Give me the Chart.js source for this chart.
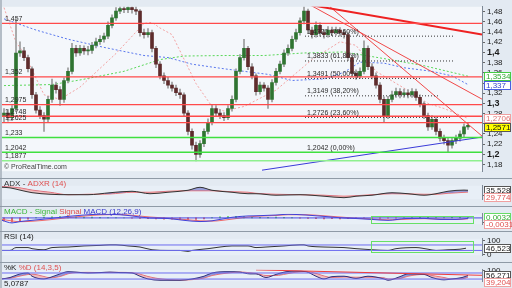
<!DOCTYPE html>
<html>
<head>
<meta charset="utf-8">
<script src="https://cdn.jsdelivr.net/npm/chart.js@4.4.1/dist/chart.umd.min.js"></script>
<style>
  html, body { margin: 0; padding: 0; background: #8f9aa6; }
  #wrap { position: relative; width: 512px; height: 288px; overflow: hidden; background: #8f9aa6; }
  canvas { position: absolute; left: 0; }
</style>
</head>
<body>
<div id="wrap">
  <canvas id="main" width="512" height="178" style="top:0px"></canvas>
  <canvas id="adx" width="512" height="27" style="top:179px"></canvas>
  <canvas id="macd" width="512" height="24" style="top:207px"></canvas>
  <canvas id="rsi" width="512" height="30" style="top:232px"></canvas>
  <canvas id="stoch" width="512" height="25" style="top:263px"></canvas>
</div>
<script>
// ---- price candles (one per bar, index = position) ----
const opens = [1.275,1.281,1.272,1.290,1.399,1.403,1.390,1.368,1.317,1.287,
  1.276,1.269,1.308,1.336,1.327,1.308,1.345,1.363,1.408,1.399,
  1.408,1.403,1.404,1.414,1.421,1.426,1.432,1.453,1.468,1.481,
  1.486,1.484,1.488,1.484,1.481,1.439,1.435,1.439,1.408,1.377,
  1.354,1.345,1.336,1.330,1.321,1.317,1.281,1.245,1.218,1.200,
  1.221,1.245,1.263,1.290,1.281,1.276,1.272,1.290,1.308,1.363,
  1.390,1.408,1.372,1.354,1.323,1.336,1.330,1.308,1.341,1.363,
  1.377,1.399,1.408,1.426,1.439,1.462,1.481,1.444,1.435,1.453,
  1.439,1.435,1.444,1.439,1.444,1.439,1.435,1.390,1.359,1.354,
  1.363,1.408,1.372,1.354,1.336,1.308,1.276,1.308,1.317,1.323,
  1.317,1.321,1.317,1.323,1.312,1.299,1.276,1.254,1.269,1.245,
  1.232,1.227,1.218,1.227,1.232,1.240,1.254];
const closes = [1.281,1.272,1.290,1.399,1.403,1.390,1.368,1.317,1.287,1.276,
  1.269,1.308,1.336,1.327,1.308,1.345,1.363,1.408,1.399,1.408,
  1.403,1.404,1.414,1.421,1.426,1.432,1.453,1.468,1.481,1.486,
  1.484,1.488,1.484,1.481,1.439,1.435,1.439,1.408,1.377,1.354,
  1.345,1.336,1.330,1.321,1.317,1.281,1.245,1.218,1.200,1.221,
  1.245,1.263,1.290,1.281,1.276,1.272,1.290,1.308,1.363,1.390,
  1.408,1.372,1.354,1.323,1.336,1.330,1.308,1.341,1.363,1.377,
  1.399,1.408,1.426,1.439,1.462,1.481,1.444,1.435,1.453,1.439,
  1.435,1.444,1.439,1.444,1.439,1.435,1.390,1.359,1.354,1.363,
  1.408,1.372,1.354,1.336,1.308,1.276,1.308,1.317,1.323,1.317,
  1.321,1.317,1.323,1.312,1.299,1.276,1.254,1.269,1.245,1.232,
  1.227,1.218,1.227,1.232,1.240,1.254,1.2571];
const highs = [1.290,1.288,1.296,1.466,1.421,1.410,1.395,1.372,1.322,1.294,
  1.282,1.314,1.348,1.342,1.333,1.350,1.370,1.418,1.414,1.414,
  1.413,1.412,1.420,1.428,1.433,1.438,1.460,1.474,1.488,1.492,
  1.492,1.492,1.492,1.490,1.484,1.446,1.447,1.444,1.412,1.382,
  1.360,1.351,1.342,1.336,1.328,1.321,1.286,1.250,1.224,1.227,
  1.250,1.270,1.297,1.296,1.288,1.282,1.296,1.315,1.368,1.396,
  1.426,1.412,1.378,1.358,1.342,1.341,1.335,1.347,1.369,1.383,
  1.405,1.415,1.432,1.446,1.468,1.490,1.485,1.450,1.460,1.458,
  1.445,1.451,1.450,1.450,1.449,1.445,1.440,1.395,1.366,1.370,
  1.423,1.413,1.378,1.360,1.341,1.313,1.314,1.324,1.330,1.329,
  1.328,1.327,1.329,1.328,1.317,1.303,1.281,1.276,1.274,1.250,
  1.238,1.232,1.233,1.238,1.246,1.260,1.263];
const lows = [1.262,1.265,1.266,1.284,1.392,1.384,1.362,1.310,1.281,1.270,
  1.245,1.262,1.302,1.320,1.296,1.302,1.340,1.358,1.392,1.394,
  1.396,1.395,1.398,1.409,1.416,1.420,1.427,1.448,1.463,1.476,
  1.478,1.478,1.477,1.474,1.432,1.428,1.430,1.401,1.370,1.348,
  1.339,1.330,1.324,1.315,1.310,1.275,1.238,1.210,1.187,1.194,
  1.215,1.240,1.258,1.275,1.270,1.266,1.268,1.285,1.303,1.358,
  1.385,1.366,1.348,1.316,1.318,1.324,1.290,1.303,1.336,1.358,
  1.372,1.394,1.403,1.421,1.434,1.456,1.437,1.428,1.430,1.432,
  1.428,1.430,1.433,1.434,1.432,1.428,1.384,1.352,1.347,1.349,
  1.358,1.366,1.348,1.330,1.301,1.263,1.270,1.303,1.312,1.311,
  1.312,1.311,1.312,1.306,1.293,1.270,1.247,1.249,1.238,1.226,
  1.220,1.205,1.212,1.221,1.226,1.235,1.249];

// moving averages (bar index, price)
const pinkIdx = [0,3,5,10,14,19,28,35,37,39,42,48,52,55,60,68,77,84,88,93,100,106,110,116];
const pinkMa = [1.488,1.420,1.399,1.317,1.308,1.332,1.398,1.457,1.459,1.448,1.435,1.339,1.294,1.285,1.294,1.326,1.386,1.421,1.414,1.363,1.330,1.300,1.290,1.2706];
const blueIdx = [0,8,16,25,35,41,47,55,66,72,80,85,89,95,100,107,112,116];
const blueMa = [1.466,1.444,1.426,1.410,1.394,1.390,1.377,1.368,1.357,1.345,1.348,1.361,1.381,1.379,1.370,1.363,1.354,1.337];
const greenIdx = [0,12,19,30,39,45,55,65,75,85,95,105,116];
const greenMa = [1.335,1.337,1.346,1.363,1.386,1.393,1.394,1.394,1.399,1.401,1.388,1.374,1.3534];

// horizontal levels
const redLevels = [1.457, 1.352, 1.2975, 1.2748, 1.2625];
const redLevelLabels = ['1,457', '1,352', '1,2975', '1,2748', '1,2625'];
const greenLevels = [1.233, 1.2042, 1.1877];
const greenLevelLabels = ['1,233', '1,2042', '1,1877'];

// fibonacci retracement
const fibValues = [1.4320, 1.3833, 1.3491, 1.3149, 1.2726, 1.2042];
const fibLabels = ['1,4320 (78,60%)', '1,3833 (61,80%)', '1,3491 (50,00%)', '1,3149 (38,20%)', '1,2726 (23,60%)', '1,2042 (0,00%)'];
const fibStart = 75.25;
const fibEnd = [112.5, 112.5, 104, 109, 111.5, 75.25];

// trend lines: [startIndex, startPrice, endIndex, endPrice]
const redTrendThick = [76.5, 1.4932, 119.5, 1.4353];
const redTrendA = [75.25, 1.4987, 119.5, 1.3084];
const redTrendB = [81.5, 1.4896, 119.5, 1.2360];
const blueTrend = [64.5, 1.169, 119.5, 1.234];

// right axis
const priceTicks = [1.18,1.2,1.22,1.24,1.26,1.28,1.3,1.32,1.34,1.36,1.38,1.4,1.42,1.44,1.46,1.48];
const priceTickLabels = ['1,18','1,2','1,22','1,24','1,26','1,28','1,3','1,32','1,34','1,36','1,38','1,4','1,42','1,44','1,46','1,48'];
const boldPriceTicks = [1.2, 1.3, 1.4];
const mainBoxValues = [1.3534, 1.337, 1.2706, 1.2571];
const mainBoxLabels = ['1,3534', '1,337', '1,2706', '1,2571'];

// ADX / ADXR
const adxIdx = [-0.5,1.5,4,7,11.5,16,21,26.5,32,36.5,41,46,49,52,57,61,63,68,74,80,85,88,92,97,101,105,108,111,115,116];
const adxVals = [45,43,36,28,23,21.6,21.6,27.8,32.4,24.7,29.3,35.5,44.8,35.5,29.3,24.7,24.7,20,21.6,16.9,12.3,16.9,20,27.8,24.7,20,24.7,32.4,36,35.5];
const adxrVals = [47,46,43,36,29.3,21.6,23,24,29.3,29.3,32.4,33.9,33.9,33.9,30.8,29.3,26,23,21.6,20,17,18.5,21.6,24.7,24,23,23,26,29,29.8];

// MACD
const macdIdx = [-0.5,2,4,7,11.5,16,20,24,29,32,36.5,41,45,49,52,57,61,63,68,71,75.5,80,85,88,92,96,100.5,105,109,113,116];
const macdVals = [-0.016,-0.033,-0.024,-0.016,-0.004,0.010,0.019,0.024,0.021,0.013,-0.001,-0.004,-0.016,-0.024,-0.019,0.004,0.013,0.014,0.019,0.024,0.019,0.010,-0.001,-0.004,-0.010,-0.016,-0.004,-0.003,-0.010,-0.010,-0.003];
const signalVals = [-0.010,-0.020,-0.025,-0.022,-0.012,0.002,0.012,0.020,0.022,0.017,0.006,-0.002,-0.010,-0.019,-0.021,-0.008,0.006,0.011,0.016,0.021,0.021,0.014,0.004,-0.002,-0.007,-0.013,-0.009,-0.005,-0.008,-0.010,-0.006];
// histogram, one value every 2 bars
const histVals = [-0.020,-0.026,-0.018,-0.009,0.003,0.005,0.007,0.008,0.008,0.007,
  0.006,0.005,0.004,0.003,0.002,0.001,-0.001,-0.003,-0.005,-0.007,
  -0.008,-0.009,-0.011,-0.012,-0.010,-0.006,0.003,0.007,0.009,0.010,
  0.008,0.006,0.004,0.004,0.005,0.004,0.003,-0.002,-0.004,-0.005,
  -0.006,-0.005,-0.006,-0.005,-0.004,-0.004,-0.004,-0.003,-0.002,-0.001,
  0.001,0.003,0.004,0.004,0.003,0.003,0.004,0.004,0.003];
const macdZero = 0;

// RSI
const rsiIdx = [-0.5,1.5,3,6,7,10,12,16,20,24,26.5,28,31,34,37,41,44,46,47,51,54,57,61,63,65.5,70,74,75,76,80,85,88,92,96,98,103,106,108,111,114,115.5];
const rsiVals = [30,30,51,51,43,35,51,55,63,67,71,71,63,55,35,30,30,23,30,43,55,63,63,51,55,63,71,71,63,55,51,43,35,30,43,51,39,30,35,39,46.5];
const rsiBands = [70, 30];

// Stochastic
const stochIdx = [-0.5,1.5,4,6,7,10,11.5,14,16,18,21,24,26.5,29,32,34,36,39,44,47,50,52,56,59,61.5,63,65.5,68,70.5,73,75.5,78,80,82,85,88,91,95,96,99,101,105,107,110,112,114.5,116];
const kVals = [21,35,71,80,48,21,35,71,93,89,80,84,89,84,80,48,21,8,8,21,48,80,93,89,71,71,35,66,93,98,93,48,21,44,48,26,48,21,8,44,71,66,35,12,21,35,56];
const dVals = [25,28,50,65,68,45,32,45,72,85,86,84,86,86,83,68,45,22,10,14,30,55,80,90,82,76,55,55,70,88,95,75,50,35,40,38,38,32,20,25,48,66,55,35,20,22,39];
const stochBands = [80, 20];
const stochTrend = [63, 111, 119.5, 57];

// ---- helpers ----
Chart.defaults.font.family = '"Liberation Sans", Arial, sans-serif';
Chart.defaults.font.size = 8;
const X_MIN = -0.5, X_MAX = 119.5;
const AXIS_BG = '#e3eaf2';
const FONT = '"Liberation Sans", Arial, sans-serif';

const pts = (xs, ys) => xs.map((x, k) => ({x: x, y: ys[k]}));
const hline = v => [{x: X_MIN, y: v}, {x: X_MAX, y: v}];
const seg = s => [{x: s[0], y: s[1]}, {x: s[2], y: s[3]}];

function lineDs(data, color, width, extra) {
  return Object.assign({type: 'line', data: data, borderColor: color, borderWidth: width,
    pointRadius: 0, fill: false, tension: 0}, extra || {});
}

function makeOptions(yMin, yMax, tickVals, tickLabels, boldVals) {
  const isBold = c => c.tick && boldVals.some(b => Math.abs(b - c.tick.value) < 1e-9);
  return {
    responsive: false, animation: false, devicePixelRatio: 1,
    layout: {padding: {left: 2, right: 0, top: 0, bottom: 0}},
    plugins: {legend: {display: false}, tooltip: {enabled: false}},
    scales: {
      x: {type: 'linear', min: X_MIN, max: X_MAX, offset: false, display: false},
      y: {
        position: 'right', min: yMin, max: yMax,
        afterFit: s => { s.width = 30; },
        afterBuildTicks: s => { s.ticks = tickVals.map(v => ({value: v})); },
        ticks: {
          autoSkip: false, padding: 2, color: '#1a1a1a',
          callback: (v, i) => tickLabels[i],
          font: c => ({size: isBold(c) ? 9 : 8, weight: isBold(c) ? 'bold' : 'normal'})
        },
        grid: {drawOnChartArea: false, drawTicks: true, tickLength: 3, color: '#666'},
        border: {display: true, color: '#7d8895'}
      }
    }
  };
}

function bgPlugin(panelColor) {
  return {id: 'bg', beforeDraw(chart) {
    const {ctx, chartArea: a, width, height} = chart;
    ctx.save();
    ctx.fillStyle = AXIS_BG;
    ctx.fillRect(0, 0, width, height);
    ctx.fillStyle = '#b4bdc7';
    ctx.fillRect(0, 0, 2, height);
    ctx.fillStyle = panelColor;
    ctx.fillRect(a.left, a.top, a.right - a.left, a.bottom - a.top);
    ctx.restore();
  }};
}

function boxPlugin(values, labels, styles, gap) {
  return {id: 'boxes', afterDraw(chart) {
    const ctx = chart.ctx, ys = chart.scales.y;
    ctx.save();
    ctx.font = '8px ' + FONT;
    ctx.textBaseline = 'middle';
    let prev = -99;
    values.forEach((v, k) => {
      let y = Math.round(ys.getPixelForValue(v));
      if (y - prev < gap) y = prev + gap;
      prev = y;
      const st = styles[k];
      ctx.fillStyle = st.bg;
      ctx.fillRect(484, y - 4, 27, 9);
      ctx.strokeStyle = st.border;
      ctx.lineWidth = 1;
      ctx.strokeRect(484.5, y - 3.5, 26, 8);
      ctx.fillStyle = st.text;
      ctx.fillText(labels[k], 486, y + 0.5);
    });
    ctx.restore();
  }};
}

function titlePlugin(parts, footer) {
  return {id: 'title', afterDraw(chart) {
    const ctx = chart.ctx;
    ctx.save();
    ctx.font = '8px ' + FONT;
    ctx.textBaseline = 'top';
    let x = 4;
    parts.forEach(p => {
      ctx.fillStyle = p[1];
      ctx.fillText(p[0], x, 1);
      x += ctx.measureText(p[0]).width;
    });
    if (footer) {
      ctx.textBaseline = 'bottom';
      ctx.fillStyle = footer[1];
      ctx.fillText(footer[0], 4, chart.height);
    }
    ctx.restore();
  }};
}

const levelTextPlugin = {id: 'levelText', afterDraw(chart) {
  const ctx = chart.ctx, ys = chart.scales.y, xs = chart.scales.x;
  ctx.save();
  ctx.font = '7px ' + FONT;
  ctx.textBaseline = 'bottom';
  ctx.fillStyle = '#2a2a2a';
  redLevels.forEach((v, k) => ctx.fillText(redLevelLabels[k], 5, ys.getPixelForValue(v) - 1));
  greenLevels.forEach((v, k) => ctx.fillText(greenLevelLabels[k], 5, ys.getPixelForValue(v) - 1));
  const fx = xs.getPixelForValue(fibStart) + 2;
  fibValues.forEach((v, k) => ctx.fillText(fibLabels[k], fx, ys.getPixelForValue(v) - 1));
  ctx.fillStyle = '#444';
  ctx.fillText('\u00a9 ProRealTime.com', 4, chart.chartArea.bottom - 1);
  ctx.restore();
}};

// ---- main price chart ----
const mainSets = [];
redLevels.forEach(v => mainSets.push(lineDs(hline(v), '#ff4a4a', 1.3, {order: 0})));
greenLevels.forEach((v, k) => mainSets.push(lineDs(hline(v), k === 2 ? '#8ff08f' : '#3fe03f', 1.5, {order: 0})));
fibValues.forEach((v, k) => {
  if (fibEnd[k] > fibStart) {
    mainSets.push(lineDs([{x: fibStart, y: v}, {x: fibEnd[k], y: v}], '#333', 1, {borderDash: [1, 2], order: 0}));
  }
});
mainSets.push(lineDs(seg(redTrendThick), '#ee2222', 2, {order: 0}));
mainSets.push(lineDs(seg(redTrendA), '#f04848', 1, {order: 0}));
mainSets.push(lineDs(seg(redTrendB), '#f04848', 1, {order: 0}));
mainSets.push(lineDs(seg(blueTrend), '#3a3ad8', 1, {order: 0}));
mainSets.push({
  type: 'bar', order: 1, grouped: false, barThickness: 3, minBarLength: 1,
  data: opens.map((o, i) => ({x: i, y: [o, closes[i]]})),
  backgroundColor: opens.map((o, i) => closes[i] >= o ? '#2f7431' : '#5e2c2c')
});
mainSets.push({
  type: 'bar', order: 2, grouped: false, barThickness: 1,
  data: highs.map((h, i) => ({x: i, y: [lows[i], h]})),
  backgroundColor: '#9a9a9a'
});
mainSets.push(lineDs(pts(pinkIdx, pinkMa), '#f2a3a3', 1, {borderDash: [2, 2], order: 3}));
mainSets.push(lineDs(pts(blueIdx, blueMa), '#5a78ee', 1, {borderDash: [2, 2], order: 3}));
mainSets.push(lineDs(pts(greenIdx, greenMa), '#5ad85a', 1, {borderDash: [2, 2], order: 3}));

new Chart(document.getElementById('main'), {
  type: 'bar',
  data: {datasets: mainSets},
  options: makeOptions(1.167, 1.4896, priceTicks, priceTickLabels, boldPriceTicks),
  plugins: [bgPlugin('#f4f7fb'), levelTextPlugin,
    boxPlugin(mainBoxValues, mainBoxLabels, [
      {bg: '#ffffff', border: '#44cc44', text: '#33aa33'},
      {bg: '#ffffff', border: '#4a5ee0', text: '#3344cc'},
      {bg: '#ffffff', border: '#f0a0a0', text: '#e07070'},
      {bg: '#ffff00', border: '#555555', text: '#111111'}], 9)]
});

const SUB_BG = '#e8eff7';
const fillBetween = {target: '+1', above: 'rgba(98,104,196,0.6)', below: 'rgba(240,150,150,0.55)'};

// ---- ADX ----
new Chart(document.getElementById('adx'), {
  type: 'bar',
  data: {datasets: [
    lineDs(pts(adxIdx, adxVals), '#333333', 1, {cubicInterpolationMode: 'monotone', fill: fillBetween}),
    lineDs(pts(adxIdx, adxrVals), '#f07070', 1, {cubicInterpolationMode: 'monotone'})
  ]},
  options: makeOptions(7.6, 49.45, [20], ['20'], []),
  plugins: [bgPlugin(SUB_BG), titlePlugin([['ADX', '#333'], [' - ', '#333'], ['ADXR (14)', '#e05050']]),
    boxPlugin([35.528, 29.774], ['35,528', '29,774'], [
      {bg: '#ffffff', border: '#555', text: '#222'},
      {bg: '#ffffff', border: '#f0a0a0', text: '#e05050'}], 7)]
});

// ---- MACD ----
new Chart(document.getElementById('macd'), {
  type: 'bar',
  data: {datasets: [
    lineDs(hline(macdZero), '#4a4ae0', 1),
    lineDs(pts(macdIdx, macdVals), '#4040d8', 1, {cubicInterpolationMode: 'monotone'}),
    lineDs(pts(macdIdx, signalVals), '#ef6a6a', 1, {cubicInterpolationMode: 'monotone'}),
    {type: 'bar', grouped: false, barThickness: 1,
      data: histVals.map((v, k) => ({x: k * 2, y: v})),
      backgroundColor: histVals.map(v => v >= 0 ? '#3cc43c' : '#e24a4a')}
  ]},
  options: makeOptions(-0.0414, 0.0271, [-0.03], ['-0,03'], []),
  plugins: [bgPlugin(SUB_BG),
    titlePlugin([['MACD - Signal ', '#3cb83c'], ['Signal ', '#e05050'], ['MACD (12,26,9)', '#3838d0']]),
    boxPlugin([0.0032, -0.0031], ['0,0032', '-0,0031'], [
      {bg: '#ffffff', border: '#66dd66', text: '#33aa33'},
      {bg: '#ffffff', border: '#f0a0a0', text: '#e05050'}], 7),
    {id: 'macdBox', afterDraw(chart) {
      const ctx = chart.ctx, xs = chart.scales.x, ys = chart.scales.y;
      ctx.save();
      ctx.strokeStyle = '#66e066';
      ctx.lineWidth = 1;
      const x1 = xs.getPixelForValue(91.75), x2 = xs.getPixelForValue(117.25);
      const y1 = ys.getPixelForValue(0.013), y2 = ys.getPixelForValue(-0.033);
      ctx.strokeRect(Math.round(x1) + 0.5, Math.round(y1) + 0.5, Math.round(x2 - x1), Math.round(y2 - y1));
      ctx.restore();
    }}]
});

// ---- RSI ----
new Chart(document.getElementById('rsi'), {
  type: 'bar',
  data: {datasets: [
    lineDs(hline(rsiBands[0]), '#6d6df0', 1),
    lineDs(hline(rsiBands[1]), '#6d6df0', 1),
    lineDs(pts(rsiIdx, rsiVals), '#333333', 1, {cubicInterpolationMode: 'monotone'})
  ]},
  options: makeOptions(-4.8, 115.2, [100, 0], ['100', '0'], []),
  plugins: [bgPlugin(SUB_BG), titlePlugin([['RSI (14)', '#222']]),
    boxPlugin([46.523], ['46,523'], [{bg: '#ffffff', border: '#555', text: '#222'}], 7),
    {id: 'rsiBox', afterDraw(chart) {
      const ctx = chart.ctx, xs = chart.scales.x, ys = chart.scales.y;
      ctx.save();
      ctx.strokeStyle = '#66e066';
      ctx.lineWidth = 1;
      const x1 = xs.getPixelForValue(91.75), x2 = xs.getPixelForValue(117.25);
      const y1 = ys.getPixelForValue(98), y2 = ys.getPixelForValue(18);
      ctx.strokeRect(Math.round(x1) + 0.5, Math.round(y1) + 0.5, Math.round(x2 - x1), Math.round(y2 - y1));
      ctx.restore();
    }}]
});

// ---- Stochastic ----
new Chart(document.getElementById('stoch'), {
  type: 'bar',
  data: {datasets: [
    lineDs(seg(stochTrend), '#f03c3c', 1),
    lineDs(hline(stochBands[0]), '#6d6df0', 1),
    lineDs(hline(stochBands[1]), '#6d6df0', 1),
    lineDs(pts(stochIdx, kVals), '#30307a', 1, {cubicInterpolationMode: 'monotone', fill: fillBetween}),
    lineDs(pts(stochIdx, dVals), '#f07070', 1, {cubicInterpolationMode: 'monotone'})
  ]},
  options: makeOptions(-1.2, 111.6, [100], ['100'], []),
  plugins: [bgPlugin(SUB_BG), titlePlugin([['%K ', '#222'], ['%D (14,3,5)', '#e05050']], ['5,0787', '#222']),
    boxPlugin([56.271, 39.204], ['56,271', '39,204'], [
      {bg: '#ffffff', border: '#555', text: '#222'},
      {bg: '#ffffff', border: '#f0a0a0', text: '#e05050'}], 7)]
});
</script>
</body>
</html>
